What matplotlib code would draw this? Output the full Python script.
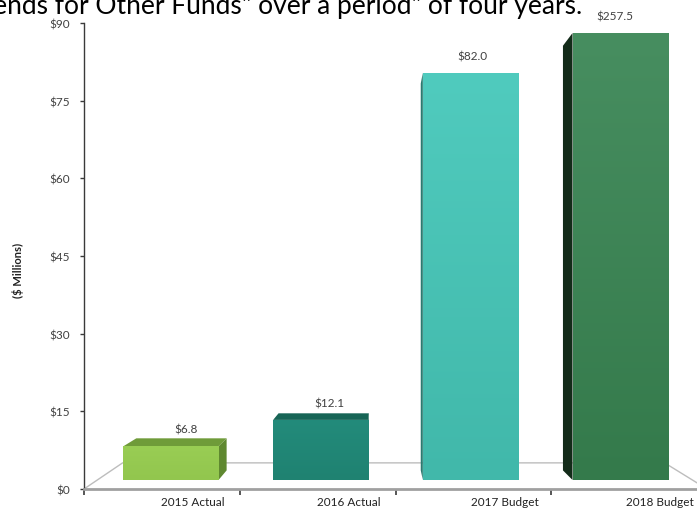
import numpy as np
import matplotlib
matplotlib.use("Agg")
import matplotlib.pyplot as plt
from matplotlib.colors import LinearSegmentedColormap
from matplotlib.patches import Polygon

plt.rcParams['font.family'] = ['Lato', 'DejaVu Sans']

# ---- data ----
categories = ["2015 Actual", "2016 Actual", "2017 Budget", "2018 Budget"]
values = [6.8, 12.1, 82.0, 257.5]
y_ticks = [0, 15, 30, 45, 60, 75, 90]
y_max = 90

# ---- styling ----
front_top = ["#99CD54", "#238B7B", "#50CBBE", "#478E60"]
front_bot = ["#92C64E", "#1F8271", "#41B8AA", "#347A4B"]
top_face = ["#6F9B39", "#176556", "#2F8E82", "#2A6A40"]
side_face = ["#5F8830", "#135A4C", "#2C7A70", "#132B19"]
text_col = "#404040"

W, H = 697, 510
fig = plt.figure(figsize=(W / 100, H / 100), dpi=100)


def px_rect(l, t, r, b):
    return [l / W, 1 - b / H, (r - l) / W, (b - t) / H]


# vanishing point of the 3-D view (figure fraction)
V_fig = (381 / W, 1 - 289 / H)

# ---- value / category frame ----
ax_axis = fig.add_axes(px_rect(84, 24, 707, 490))
ax_axis.set_xlim(0, 4)
ax_axis.set_ylim(0, y_max)
ax_axis.patch.set_visible(False)
for s in ("top", "right"):
    ax_axis.spines[s].set_visible(False)
ax_axis.spines["left"].set_color("#3A3A3A")
ax_axis.spines["left"].set_linewidth(1.0)
ax_axis.spines["bottom"].set_color("#A0A0A0")
ax_axis.spines["bottom"].set_linewidth(2.0)
ax_axis.spines["bottom"].set_clip_on(False)
ax_axis.set_yticks(y_ticks, labels=[f"${v}" for v in y_ticks])
ax_axis.set_xticks(np.arange(5), labels=[""] * 5)
ax_axis.set_xticks(np.arange(4) + 0.70, labels=categories, minor=True)
ax_axis.tick_params(axis="y", direction="out", length=3, width=1, color="#3A3A3A",
                    pad=7, labelsize=8.5, labelcolor=text_col)
ax_axis.tick_params(axis="x", which="major", direction="out", length=4, width=1.2,
                    color="#3A3A3A")
ax_axis.tick_params(axis="x", which="minor", length=0, pad=5, labelsize=8.5,
                    labelcolor="#222222")

# floor outline drawn in perspective toward the vanishing point
Va = ax_axis.transData.inverted().transform(fig.transFigure.transform(V_fig))
k_floor = 0.13
front_l = np.array([0.0, 0.0])
front_r = np.array([4.0, 0.0])
back_l = front_l + k_floor * (Va - front_l)
back_r = front_r + k_floor * (Va - front_r)
fl = np.array([front_l, back_l, back_r, front_r])
ax_axis.plot(fl[:, 0], fl[:, 1], color="#BDBDBD", lw=1.0, clip_on=False, zorder=1)

# ---- 3-D bars ----
ax_bars = fig.add_axes(px_rect(84, 34, 697, 481))
ax_bars.set_xlim(-0.581, 3.514)
ax_bars.set_ylim(0, y_max)
ax_bars.axis("off")
Vb = ax_bars.transData.inverted().transform(fig.transFigure.transform(V_fig))
k_bar = 0.05
bar_w = 0.635

x = np.arange(len(values))
heights = np.minimum(values, y_max)


def back(p):
    p = np.asarray(p, float)
    return p + k_bar * (Vb - p)


for i, (xi, h) in enumerate(zip(x, heights)):
    L, R = xi - bar_w / 2, xi + bar_w / 2
    FL0, FR0, FLT, FRT = (L, 0), (R, 0), (L, h), (R, h)
    if Vb[0] > R:
        ax_bars.add_patch(Polygon([FR0, FRT, back(FRT), back(FR0)], closed=True,
                                  fc=side_face[i], ec="none", zorder=2, clip_on=False))
    if Vb[0] < L:
        ax_bars.add_patch(Polygon([FL0, FLT, back(FLT), back(FL0)], closed=True,
                                  fc=side_face[i], ec="none", zorder=2, clip_on=False))
    if Vb[1] > h:
        ax_bars.add_patch(Polygon([FLT, FRT, back(FRT), back(FLT)], closed=True,
                                  fc=top_face[i], ec="none", zorder=2, clip_on=False))

bars = ax_bars.bar(x, heights, width=bar_w, color=front_bot, zorder=3, clip_on=False)
for i, b in enumerate(bars):
    cmap = LinearSegmentedColormap.from_list(f"g{i}", [front_bot[i], front_top[i]])
    grad = np.linspace(0, 1, 256).reshape(-1, 1)
    im = ax_bars.imshow(grad, cmap=cmap, origin="lower", aspect="auto",
                        extent=(b.get_x(), b.get_x() + b.get_width(), 0, b.get_height()),
                        zorder=4)
    im.set_clip_path(b)
ax_bars.set_xlim(-0.581, 3.514)
ax_bars.set_ylim(0, y_max)

# value labels above each bar, nudged toward the view centre
label_anchor = 2.25
for xi, h, v in zip(x, heights, values):
    lx = xi + 0.0445 * (label_anchor - xi)
    ax_bars.annotate(f"${v:.1f}", xy=(lx, h), xytext=(0, 17), textcoords="offset pixels",
                     ha="center", va="center", fontsize=8.5, color=text_col,
                     annotation_clip=False, zorder=6)

# axis title and caption line
fig.text(18 / W, 1 - 270 / H, "($ Millions)", rotation=90, ha="center", va="center",
         fontsize=8, fontweight="bold", color="#222222")
fig.text(582 / W, 1 - 14 / H, 'Trends for Other Funds" over a period" of four years.',
         ha="right", va="baseline", fontsize=19, color="black")

fig.savefig("out.png", dpi=100)
